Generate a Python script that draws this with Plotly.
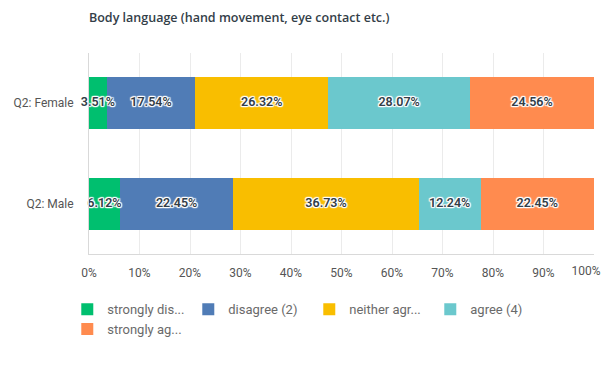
import plotly.graph_objects as go

categories = ["Q2: Female", "Q2: Male"]
series_names = ["strongly dis...", "disagree (2)", "neither agr...", "agree (4)", "strongly ag..."]
strongly_disagree = [3.51, 6.12]
disagree = [17.54, 22.45]
neither = [26.32, 36.73]
agree = [28.07, 12.24]
strongly_agree = [24.56, 22.45]
tick_vals = [0, 10, 20, 30, 40, 50, 60, 70, 80, 90, 100]
tick_text = [f"{v}%" for v in tick_vals]

colors = ["#00BF6F", "#507CB6", "#F9BE00", "#6BC8CD", "#FF8B4F"]
all_series = [strongly_disagree, disagree, neither, agree, strongly_agree]

shadow = ("1px 1px 1px #fff, -1px -1px 1px #fff, 1px -1px 1px #fff, -1px 1px 1px #fff, "
          "0px 1px 1px #fff, 0px -1px 1px #fff, 1px 0px 1px #fff, -1px 0px 1px #fff")

fig = go.Figure()
for name, vals, col in zip(series_names, all_series, colors):
    fig.add_trace(go.Bar(
        y=categories, x=vals, name=name, orientation="h",
        marker=dict(color=col, line=dict(width=0)),
        hoverinfo="skip",
    ))

# labels on top of all bars, centred in each segment
lab_x, lab_y, lab_t = [], [], []
for ci, cat in enumerate(categories):
    base = 0.0
    for vals in all_series:
        v = vals[ci]
        lab_x.append(base + v / 2)
        lab_y.append(cat)
        lab_t.append(f"{v:.2f}%")
        base += v
fig.add_trace(go.Scatter(
    x=lab_x, y=lab_y, text=lab_t, mode="text", showlegend=False,
    textposition="middle center", hoverinfo="skip", cliponaxis=False,
    textfont=dict(family="Roboto", size=12.5, color="#333e48", weight=600, shadow=shadow),
))

tickfont = dict(family="Roboto", size=12, color="#555")
fig.update_layout(
    barmode="stack",
    bargap=0.48,
    width=604, height=371,
    margin=dict(l=89, r=10, t=53, b=117, autoexpand=False),
    paper_bgcolor="white", plot_bgcolor="white",
    font=dict(family="Roboto", size=12, color="#555"),
    title=dict(text="Body language (hand movement, eye contact etc.)",
               x=89/604, xanchor="left", xref="container",
               y=1-18/371, yanchor="middle", yref="container",
               font=dict(family="Open Sans", size=12.5, color="#333e48", weight=600)),
    xaxis=dict(range=[0, 100], tickvals=tick_vals[:-1], ticktext=tick_text[:-1],
               showgrid=True, gridcolor="#ebebeb", gridwidth=1,
               zeroline=False, showline=True, linecolor="#d9d9d9", linewidth=1,
               ticks="", ticklabelstandoff=8, tickfont=tickfont,
               fixedrange=True, automargin=False),
    xaxis2=dict(range=[0, 100], overlaying="x", side="bottom", anchor="y",
                tickvals=tick_vals[-1:], ticktext=tick_text[-1:],
                showgrid=True, gridcolor="#ebebeb", zeroline=False, showline=False,
                ticks="", ticklabelstandoff=8, ticklabelshift=-8, tickfont=tickfont,
                ticklabeloverflow="allow",
                fixedrange=True, automargin=False),
    yaxis=dict(categoryorder="array", categoryarray=categories[::-1],
               showgrid=False, zeroline=False, showline=True, linecolor="#d9d9d9",
               ticks="", ticklabelstandoff=12, tickfont=tickfont,
               fixedrange=True, automargin=False),
    legend=dict(orientation="h", x=-0.043, xanchor="left",
                y=-0.2, yanchor="top", traceorder="normal",
                entrywidth=76, entrywidthmode="pixels",
                font=dict(family="Roboto", size=13, color="#6a6a6a"),
                itemclick=False, itemdoubleclick=False),
    showlegend=True,
)

# invisible helper trace so the 100% axis is drawn
fig.add_trace(go.Scatter(x=[100], y=[categories[0]], xaxis="x2", mode="markers",
                         marker=dict(opacity=0), showlegend=False, hoverinfo="skip"))

fig.write_html("out.html")
